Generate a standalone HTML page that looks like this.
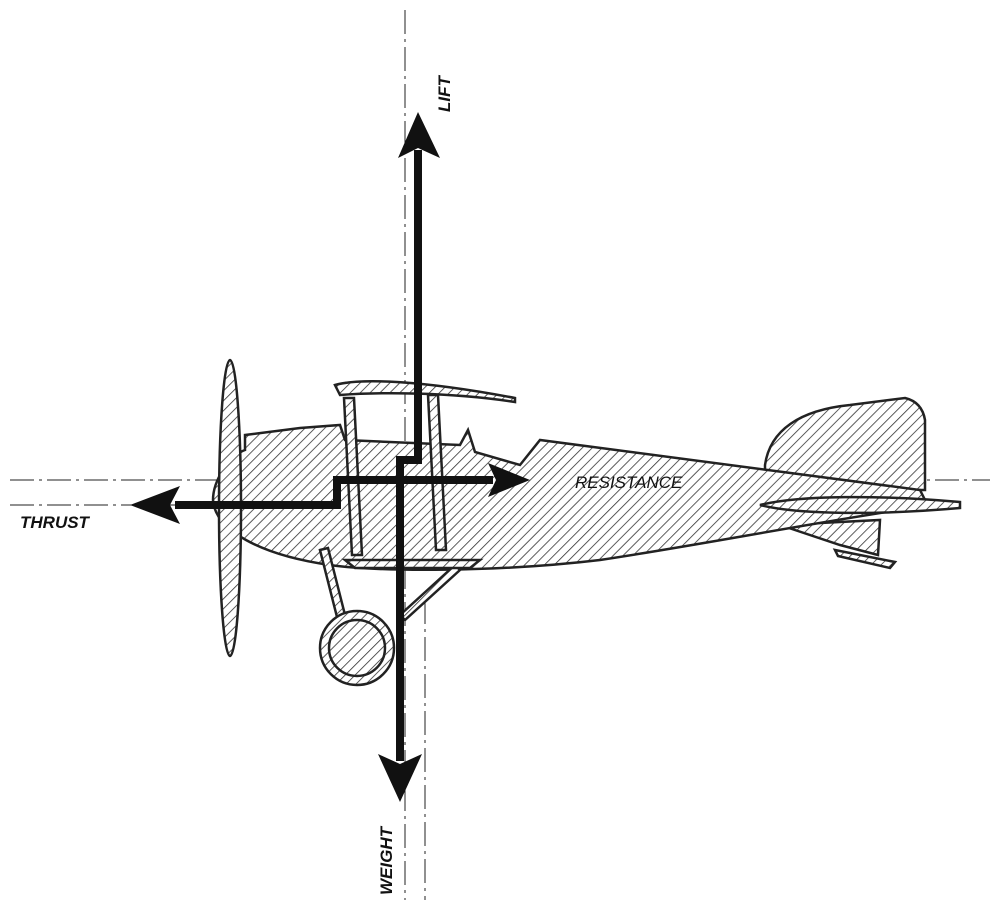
<!DOCTYPE html>
<html><head><style>body{margin:0;background:#fff}svg{display:block}</style></head><body>
<svg width="1000" height="903" viewBox="0 0 1000 903" xmlns="http://www.w3.org/2000/svg">
<defs>
<pattern id="h" width="7" height="7" patternUnits="userSpaceOnUse" patternTransform="rotate(45)">
<rect width="7" height="7" fill="#fff"/><line x1="0" y1="0" x2="0" y2="7" stroke="#333" stroke-width="1.6"/>
</pattern>
</defs>
<g stroke="#222" stroke-width="1" fill="none" stroke-dasharray="24,5,3,5">
<line x1="405" y1="10" x2="405" y2="900"/>
<line x1="425" y1="600" x2="425" y2="900"/>
<line x1="10" y1="480" x2="990" y2="480"/>
<line x1="10" y1="505" x2="250" y2="505"/>
</g>
<g stroke="#222" stroke-width="2.5" fill="url(#h)">
<path d="M765,465 C770,430 800,410 850,405 L905,398 Q922,402 925,420 L925,490 L765,490 Z"/>
<path d="M780,525 L880,520 L878,555 L840,545 Z"/>
<path d="M835,550 L895,562 L890,568 L838,556 Z"/>
<path d="M245,435 L300,428 L340,425 L345,440 L460,445 L468,430 L475,452 L520,465 L540,440 L920,490 L925,500 L900,510 C800,525 700,545 600,560 C500,572 380,572 330,565 C260,555 215,530 213,500 C213,480 230,455 245,450 Z"/>
<path d="M760,505 C800,495 880,495 960,502 L960,508 C880,515 800,515 760,505 Z"/>
<ellipse cx="230" cy="508" rx="11" ry="148"/>
<path d="M335,385 C360,378 420,380 515,398 L515,402 C450,392 380,392 340,395 Z"/>
<path d="M344,398 L354,398 L362,555 L352,555 Z"/>
<path d="M428,395 L438,395 L446,550 L436,550 Z"/>
<path d="M320,550 L328,548 L345,615 L337,617 Z"/>
<path d="M400,615 L455,565 L460,570 L405,620 Z"/>
<circle cx="357" cy="648" r="37"/>
<circle cx="357" cy="648" r="28"/>
<path d="M345,560 L480,560 L470,568 L355,568 Z"/>
</g>
<g fill="#111" stroke="#111">
<rect x="414" y="150" width="8" height="312" stroke="none"/>
<polygon points="418,112 440,158 418,148 398,158" stroke="none"/>
<rect x="396" y="456" width="26" height="8" stroke="none"/>
<rect x="396" y="456" width="8" height="305" stroke="none"/>
<polygon points="400,802 422,754 400,764 378,754" stroke="none"/>
<rect x="175" y="501" width="166" height="8" stroke="none"/>
<rect x="333" y="476" width="8" height="33" stroke="none"/>
<rect x="333" y="476" width="160" height="8" stroke="none"/>
<polygon points="130,505 180,486 170,505 180,524" stroke="none"/>
<polygon points="530,480 488,463 496,480 488,497" stroke="none"/>
</g>
<g font-family="Liberation Sans, sans-serif" font-style="italic" font-weight="bold" font-size="17" fill="#111">
<text x="20" y="528">THRUST</text>
<text x="575" y="488" font-weight="normal">RESISTANCE</text>
<text transform="translate(450,112) rotate(-90)">LIFT</text>
<text transform="translate(392,895) rotate(-90)">WEIGHT</text>
</g>
</svg>
</body></html>
